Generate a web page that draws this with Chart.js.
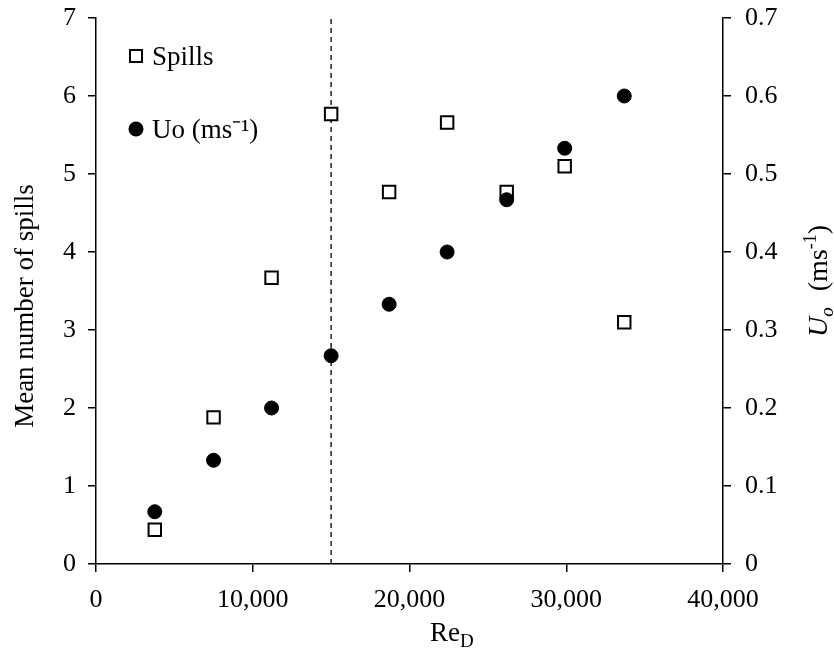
<!DOCTYPE html>
<html>
<head>
<meta charset="utf-8">
<script src="https://cdn.jsdelivr.net/npm/chart.js@4/dist/chart.umd.min.js"></script>
<style>
  html, body { margin: 0; padding: 0; background: #fff; }
  #wrap { width: 834px; height: 648px; }
</style>
</head>
<body>
<div id="wrap"><canvas id="chart" width="834" height="648"></canvas></div>
<script>
// Reynolds number for each run
const reD = [3750, 7500, 11200, 15000, 18700, 22400, 26200, 29900, 33700];
// mean number of spills (left axis)
const spills = [0.44, 1.88, 3.67, 5.77, 4.77, 5.66, 4.77, 5.10, 3.10];
// exit velocity U0 in m/s (right axis)
const uo = [0.067, 0.133, 0.200, 0.267, 0.333, 0.400, 0.467, 0.533, 0.600];
// dashed marker line
const markerRe = 15000;

const FONT = '"Liberation Serif", "Times New Roman", serif';

function pairs(xs, ys) {
    return xs.map((x, i) => ({ x: x, y: ys[i] }));
}

// draws the in-plot legend and the axis titles that need sub/superscripts
const extrasPlugin = {
    id: 'extras',
    afterDraw(chart) {
        const ctx = chart.ctx;
        const area = chart.chartArea;
        ctx.save();
        ctx.fillStyle = '#000';
        ctx.strokeStyle = '#000';
        ctx.textBaseline = 'alphabetic';
        ctx.textAlign = 'left';

        // legend
        const lx = area.left + 40;
        ctx.lineWidth = 2;
        ctx.fillStyle = '#fff';
        ctx.fillRect(lx - 6, 50, 12, 12);
        ctx.strokeRect(lx - 6, 50, 12, 12);
        ctx.fillStyle = '#000';
        ctx.font = '27px ' + FONT;
        ctx.fillText('Spills', lx + 16, 65);

        ctx.beginPath();
        ctx.arc(lx, 129, 7.5, 0, Math.PI * 2);
        ctx.fill();
        ctx.fillText('Uo (ms\u207B\u00B9)', lx + 16, 138);

        // x axis title: Re_D
        ctx.font = '27px ' + FONT;
        const reW = ctx.measureText('Re').width;
        ctx.fillText('Re', 430, 641);
        ctx.font = '19px ' + FONT;
        ctx.fillText('D', 430 + reW, 647);

        // left axis title
        ctx.save();
        ctx.translate(33, 306);
        ctx.rotate(-Math.PI / 2);
        ctx.textAlign = 'center';
        ctx.font = '27px ' + FONT;
        ctx.fillText('Mean number of spills', 0, 0);
        ctx.restore();

        // right axis title: U0 (ms-1)
        ctx.save();
        ctx.translate(827, 337);
        ctx.rotate(-Math.PI / 2);
        ctx.textAlign = 'left';
        let rx = 0;
        ctx.font = 'italic 28px ' + FONT;
        ctx.fillText('U', rx, 0);
        rx += ctx.measureText('U').width;
        ctx.font = 'italic 19px ' + FONT;
        ctx.fillText('o', rx, 6);
        rx += ctx.measureText('o').width + 16;
        ctx.font = '28px ' + FONT;
        ctx.fillText('(ms', rx, 0);
        rx += ctx.measureText('(ms').width;
        ctx.font = '18px ' + FONT;
        ctx.fillText('-1', rx, -11);
        rx += ctx.measureText('-1').width;
        ctx.font = '28px ' + FONT;
        ctx.fillText(')', rx, 0);
        ctx.restore();

        ctx.restore();
    }
};

// fix the axis boxes so the plot area lands where the reference has it
function fitVertical(width) {
    return s => {
        s.width = width;
        s.paddingTop = 0;
        s.paddingBottom = 0;
    };
}

const ctx = document.getElementById('chart').getContext('2d');
const chart = new Chart(ctx, {
    type: 'scatter',
    data: {
        datasets: [
            {
                label: 'Uo (ms-1)',
                data: pairs(reD, uo),
                yAxisID: 'y1',
                pointStyle: 'circle',
                pointRadius: 7,
                pointHoverRadius: 7,
                backgroundColor: '#000',
                borderColor: '#000',
                borderWidth: 1,
                order: 0
            },
            {
                label: 'Spills',
                data: pairs(reD, spills),
                yAxisID: 'y',
                pointStyle: 'rect',
                pointRadius: 8.8,
                pointHoverRadius: 8.8,
                backgroundColor: '#fff',
                borderColor: '#000',
                borderWidth: 2,
                order: 1
            },
            {
                label: 'marker',
                type: 'line',
                data: [{ x: markerRe, y: 0 }, { x: markerRe, y: 7 }],
                yAxisID: 'y',
                borderColor: '#222',
                borderWidth: 1.5,
                borderDash: [5, 4],
                pointRadius: 0,
                fill: false,
                order: 2
            }
        ]
    },
    options: {
        responsive: false,
        animation: false,
        layout: { padding: { top: 18, left: 0, right: 0, bottom: 0 } },
        plugins: {
            legend: { display: false },
            tooltip: { enabled: false }
        },
        scales: {
            x: {
                type: 'linear',
                min: 0,
                max: 40000,
                ticks: {
                    stepSize: 10000,
                    color: '#000',
                    padding: 13,
                    font: { family: FONT, size: 26 },
                    maxRotation: 0,
                    callback: v => v.toLocaleString('en-US')
                },
                grid: { drawOnChartArea: false, drawTicks: true, tickLength: 8, color: '#000', lineWidth: 1.5 },
                border: { display: true, color: '#000', width: 1.5 },
                afterFit: s => { s.height = 84; }
            },
            y: {
                position: 'left',
                min: 0,
                max: 7,
                ticks: {
                    stepSize: 1,
                    color: '#000',
                    padding: 12,
                    font: { family: FONT, size: 26 }
                },
                grid: { drawOnChartArea: false, drawTicks: true, tickLength: 8, color: '#000', lineWidth: 1.5 },
                border: { display: true, color: '#000', width: 1.5 },
                afterFit: fitVertical(96)
            },
            y1: {
                position: 'right',
                min: 0,
                max: 0.7,
                ticks: {
                    stepSize: 0.1,
                    color: '#000',
                    padding: 14,
                    font: { family: FONT, size: 26 },
                    callback: v => (v === 0 ? '0' : v.toFixed(1))
                },
                grid: { drawOnChartArea: false, drawTicks: true, tickLength: 8, color: '#000', lineWidth: 1.5 },
                border: { display: true, color: '#000', width: 1.5 },
                afterFit: fitVertical(111)
            }
        }
    },
    plugins: [extrasPlugin]
});
</script>
</body>
</html>
